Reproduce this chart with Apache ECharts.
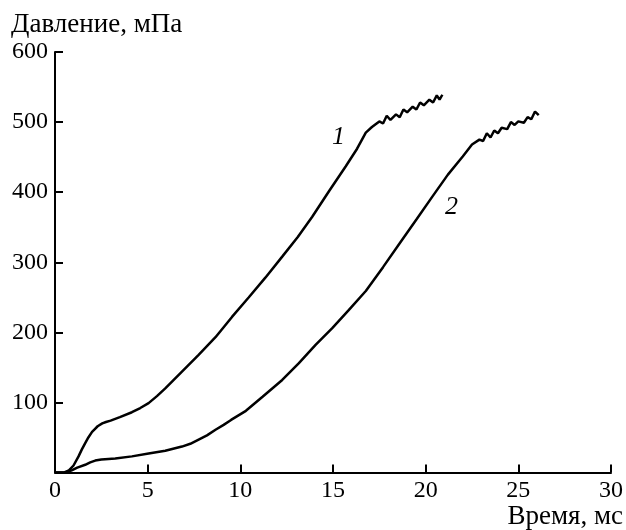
<!DOCTYPE html>
<html>
<head>
<meta charset="utf-8">
<script src="https://cdn.jsdelivr.net/npm/echarts@6/dist/echarts.min.js"></script>
<style>
  html, body { margin: 0; padding: 0; background: #fff; }
  #main { width: 626px; height: 530px; }
</style>
</head>
<body>
<div id="main"></div>
<script type="text/javascript">
    // кривая 1: [время, мс; давление, мПа]
    var curve1 = [
        [0, 0], [0.5, 0], [0.75, 3], [1.0, 10], [1.27, 23], [1.45, 33], [1.63, 42],
        [1.8, 50], [2.0, 58], [2.15, 62], [2.3, 66], [2.55, 70], [2.75, 72], [3.0, 74],
        [3.5, 79], [4.15, 86], [4.6, 92], [5.05, 99], [5.5, 109], [5.95, 120],
        [6.85, 144], [7.75, 168], [8.66, 193], [9.55, 222], [10.46, 250],
        [11.35, 278], [12.26, 308], [13.1, 336], [13.88, 365], [14.8, 402], [15.69, 437],
        [16.3, 462], [16.77, 485], [17.1, 493], [17.5, 501], [17.7, 498], [17.9, 509],
        [18.1, 503], [18.4, 511], [18.6, 507], [18.8, 518], [19.0, 514], [19.3, 522],
        [19.5, 518], [19.7, 528], [19.9, 524], [20.2, 532], [20.4, 528], [20.6, 538],
        [20.75, 532], [20.9, 539]
    ];
    // кривая 2
    var curve2 = [
        [0, 0], [0.6, 0], [0.9, 3], [1.2, 7], [1.63, 11], [1.9, 14.5], [2.17, 17],
        [2.5, 18.5], [2.7, 19], [3.25, 20], [4.15, 23], [5.05, 27], [5.95, 31],
        [6.85, 37], [7.3, 41], [7.75, 47], [8.2, 53], [8.66, 61], [9.1, 68], [9.5, 75],
        [10.3, 88], [11.2, 108], [12.26, 132], [13.16, 156], [14.06, 182], [14.96, 206],
        [15.86, 232], [16.77, 259], [17.7, 293], [18.6, 327], [19.5, 361], [20.37, 394],
        [21.2, 425], [22.0, 451], [22.5, 468], [22.9, 475],
        [23.1, 473], [23.3, 484], [23.5, 478], [23.7, 488], [23.9, 484], [24.1, 492],
        [24.4, 490], [24.6, 500], [24.8, 496], [25.0, 501], [25.3, 499], [25.5, 507],
        [25.7, 504], [25.9, 515], [26.1, 510]
    ];
    // подписи кривых: [x, y, текст]
    var curveLabels = [[15.3, 478, '1'], [21.4, 378, '2']];

    var font = 'Liberation Serif';
    var myChart = echarts.init(document.getElementById('main'));

    function labelPoint(l) {
        return {
            coord: [l[0], l[1]],
            symbolSize: 1,
            itemStyle: { color: 'rgba(0,0,0,0)' },
            label: {
                show: true, position: 'inside', formatter: l[2],
                fontFamily: font, fontStyle: 'italic', fontSize: 26, color: '#000'
            }
        };
    }

    var option = {
        animation: false,
        backgroundColor: '#fff',
        grid: { left: 55, right: 14, top: 52, bottom: 57.5 },
        xAxis: {
            type: 'value', min: 0, max: 30, interval: 5,
            axisLine: { lineStyle: { color: '#000', width: 2 } },
            axisTick: { inside: true, length: 8, lineStyle: { color: '#000', width: 2 } },
            axisLabel: { color: '#000', fontFamily: font, fontSize: 24, margin: 6 },
            splitLine: { show: false }
        },
        yAxis: {
            type: 'value', min: 0, max: 600, interval: 100,
            axisLine: { show: true, lineStyle: { color: '#000', width: 2 } },
            axisTick: { show: true, inside: true, length: 8, lineStyle: { color: '#000', width: 2 } },
            axisLabel: {
                color: '#000', fontFamily: font, fontSize: 24, margin: 7,
                formatter: function (v) { return v === 0 ? '' : v; }
            },
            splitLine: { show: false }
        },
        graphic: [
            {
                type: 'text', left: 11, top: 11,
                style: { text: 'Давление, мПа', font: '27px "Liberation Serif"', fill: '#000' }
            },
            {
                type: 'text', right: 3, top: 503,
                style: { text: 'Время, мс', font: '27px "Liberation Serif"', fill: '#000' }
            }
        ],
        series: [
            {
                name: '1', type: 'line', data: curve1, showSymbol: false,
                lineStyle: { color: '#000', width: 2.5 },
                markPoint: { data: [labelPoint(curveLabels[0])] }
            },
            {
                name: '2', type: 'line', data: curve2, showSymbol: false,
                lineStyle: { color: '#000', width: 2.5 },
                markPoint: { data: [labelPoint(curveLabels[1])] }
            }
        ]
    };

    myChart.setOption(option);
</script>
</body>
</html>
